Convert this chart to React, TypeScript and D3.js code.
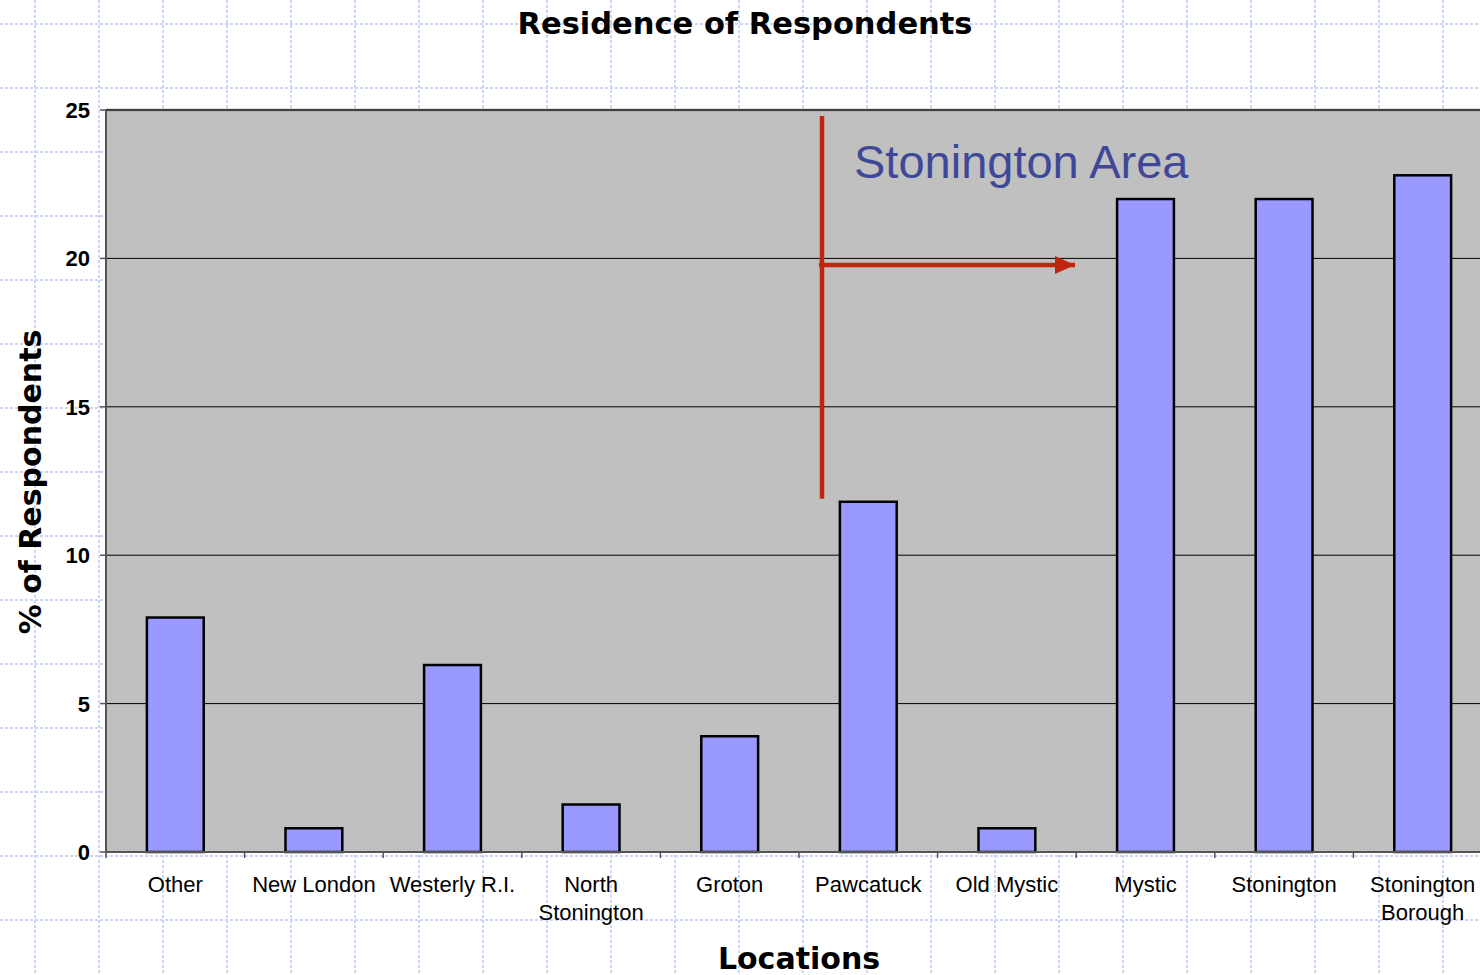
import React from "react";
import * as d3 from "d3";

const categories = [
  ["Other"],
  ["New London"],
  ["Westerly R.I."],
  ["North", "Stonington"],
  ["Groton"],
  ["Pawcatuck"],
  ["Old Mystic"],
  ["Mystic"],
  ["Stonington"],
  ["Stonington", "Borough"],
];
const values = [7.9, 0.8, 6.3, 1.6, 3.9, 11.8, 0.8, 22.0, 22.0, 22.8];
const yTicks = [0, 5, 10, 15, 20, 25];
const title = "Residence of Respondents";
const xTitle = "Locations";
const yTitle = "% of Respondents";
const annotation = "Stonington Area";

export default function App() {
  const W = 1480, H = 975;
  const left = 106, top = 110, bottom = 852;
  const bandW = 138.6;
  const right = left + bandW * categories.length;
  const x = d3
    .scaleBand<number>()
    .domain(d3.range(categories.length))
    .range([left, right])
    .paddingInner(0.59)
    .paddingOuter(0.295);
  const band = d3.scaleBand<number>().domain(d3.range(categories.length)).range([left, right]);
  const y = d3.scaleLinear().domain([0, 25]).range([bottom, top]);

  const gridXs = d3.range(35, W + 64, 64);
  const gridYs = d3.range(24, H + 64, 64);
  const sans = "Liberation Sans, Arial, sans-serif";
  const wide = "DejaVu Sans, Verdana, sans-serif";

  return (
    <svg width={W} height={H} style={{ position: "absolute", left: 0, top: 0 }}>
      <defs>
        <marker id="arr" markerWidth="8" markerHeight="8" refX="4.5" refY="4" orient="auto" markerUnits="strokeWidth">
          <path d="M0,2 L4.5,4 L0,6 Z" fill="#C0260F" />
        </marker>
      </defs>
      <rect x={0} y={0} width={W} height={H} fill="#fff" />
      {gridXs.map((gx) => (
        <line key={"gx" + gx} x1={gx} x2={gx} y1={0} y2={H} stroke="#CBD6F6" strokeWidth={2} strokeDasharray="3 2" />
      ))}
      {gridYs.map((gy) => (
        <line key={"gy" + gy} x1={0} x2={W} y1={gy} y2={gy} stroke="#CBD6F6" strokeWidth={2} strokeDasharray="3 2" />
      ))}
      <rect x={left} y={top} width={right - left} height={bottom - top} fill="#C0C0C0" />
      <line x1={left} x2={right} y1={top} y2={top} stroke="#808080" strokeWidth={2.5} />
      {yTicks.slice(1).map((t) => (
        <line key={"g" + t} x1={left} x2={right} y1={y(t)} y2={y(t)} stroke="#000" strokeWidth={1} />
      ))}
      {values.map((v, i) => (
        <rect key={"b" + i} x={x(i)!} y={y(v)} width={x.bandwidth()} height={bottom - y(v)} fill="#9999FF" stroke="#000" strokeWidth={2.5} />
      ))}
      <line x1={left} x2={left} y1={top} y2={bottom} stroke="#555" strokeWidth={2} />
      <line x1={left} x2={right} y1={bottom} y2={bottom} stroke="#555" strokeWidth={2} />
      {yTicks.map((t) => (
        <g key={"yt" + t}>
          <line x1={left - 6} x2={left} y1={y(t)} y2={y(t)} stroke="#555" strokeWidth={1.5} />
          <text x={90} y={y(t)} dy="0.36em" textAnchor="end" fontFamily={sans} fontWeight="bold" fontSize={22} fill="#000">
            {t}
          </text>
        </g>
      ))}
      {d3.range(categories.length + 1).map((i) => (
        <line key={"xt" + i} x1={left + i * bandW} x2={left + i * bandW} y1={bottom} y2={bottom + 6} stroke="#555" strokeWidth={1.5} />
      ))}
      {categories.map((lines, i) => (
        <text key={"xl" + i} x={band(i)! + band.bandwidth() / 2} y={892} textAnchor="middle" fontFamily={sans} fontSize={22} fill="#000">
          {lines.map((l, j) => (
            <tspan key={j} x={band(i)! + band.bandwidth() / 2} dy={j === 0 ? 0 : 28}>
              {l}
            </tspan>
          ))}
        </text>
      ))}
      <text x={745} y={34} textAnchor="middle" fontFamily={wide} fontWeight="bold" fontSize={30.5} fill="#000">
        {title}
      </text>
      <text x={799} y={969} textAnchor="middle" fontFamily={wide} fontWeight="bold" fontSize={30} fill="#000">
        {xTitle}
      </text>
      <text transform={`translate(41,482) rotate(-90)`} textAnchor="middle" fontFamily={wide} fontWeight="bold" fontSize={30} fill="#000">
        {yTitle}
      </text>
      <line x1={822} x2={822} y1={y(24.8)} y2={y(11.9)} stroke="#C0260F" strokeWidth={4.5} />
      <line x1={819} x2={1075} y1={265} y2={265} stroke="#C0260F" strokeWidth={4.5} markerEnd="url(#arr)" />
      <text x={854} y={178} fontFamily={sans} fontSize={47} fill="#3F4898">
        {annotation}
      </text>
    </svg>
  );
}
